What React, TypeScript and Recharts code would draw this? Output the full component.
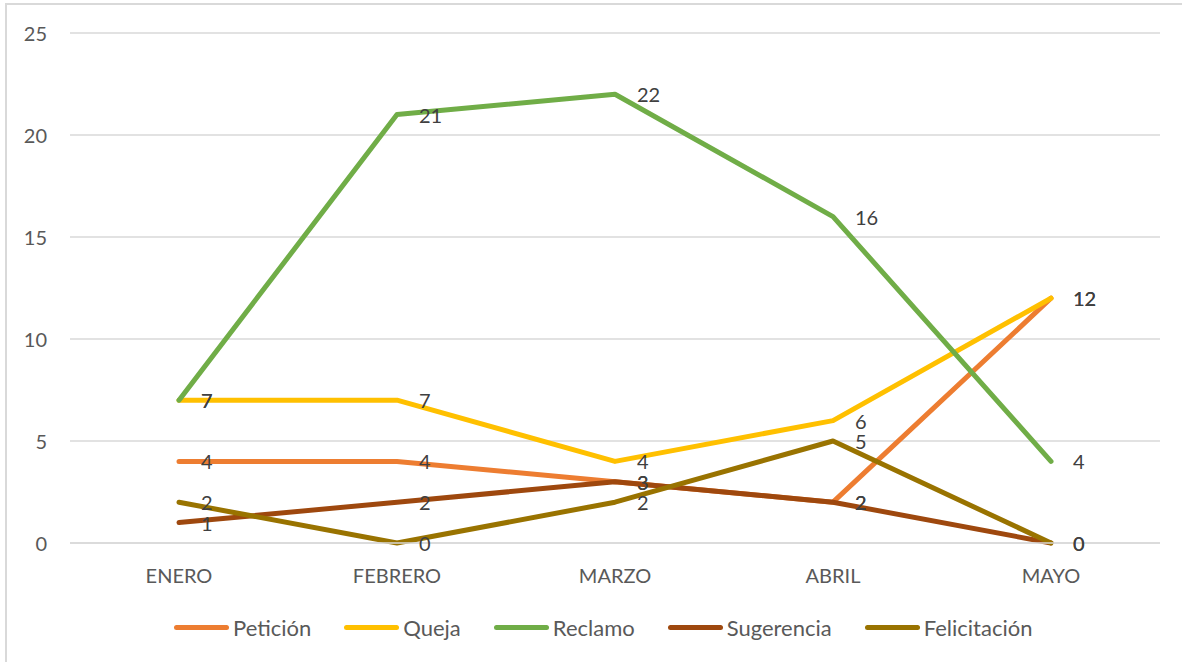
import React from "react";
import { LineChart, Line, XAxis, YAxis, CartesianGrid, LabelList } from "recharts";

const categories = ["ENERO", "FEBRERO", "MARZO", "ABRIL", "MAYO"];
const peticion = [4, 4, 3, 2, 12];
const queja = [7, 7, 4, 6, 12];
const reclamo = [7, 21, 22, 16, 4];
const sugerencia = [1, 2, 3, 2, 0];
const felicitacion = [2, 0, 2, 5, 0];
const yTicks = [0, 5, 10, 15, 20, 25];

const seriesNames = ["Petición", "Queja", "Reclamo", "Sugerencia", "Felicitación"];
const seriesKeys = ["peticion", "queja", "reclamo", "sugerencia", "felicitacion"];
const seriesColors = ["#ED7D31", "#FFC000", "#70AD47", "#9E480E", "#997300"];
const seriesValues = [peticion, queja, reclamo, sugerencia, felicitacion];

const data = categories.map((c, i) => {
  const row: any = { name: c };
  seriesKeys.forEach((k, j) => {
    row[k] = seriesValues[j][i];
  });
  return row;
});

const FONT = "Lato, 'Open Sans', sans-serif";

const YTick = (props: any) => (
  <text x={47} y={props.y} textAnchor="end" dominantBaseline="central" fontSize={20} fill="#595959" fontFamily={FONT}>
    {props.payload.value}
  </text>
);

const XTick = (props: any) => (
  <text x={props.x} y={575} textAnchor="middle" dominantBaseline="central" fontSize={20} fill="#595959" fontFamily={FONT}>
    {props.payload.value}
  </text>
);

const DataLabel = (props: any) => (
  <text x={props.x + 22} y={props.y} textAnchor="start" dominantBaseline="central" fontSize={20} fill="#404040" fontFamily={FONT}>
    {props.value}
  </text>
);

export default function App() {
  return (
    <div style={{ position: "absolute", left: 0, top: 0, width: 1182, height: 662, background: "#fff", overflow: "hidden" }}>
      <div style={{ position: "absolute", left: 5, top: 3, right: -10, bottom: -10, borderLeft: "2px solid #d9d9d9", borderTop: "2px solid #d9d9d9" }} />
      <LineChart width={1182} height={662} data={data} margin={{ top: 33, right: 22, left: 0, bottom: 89 }}>
        <CartesianGrid horizontal vertical={false} stroke="#d9d9d9" strokeWidth={1.5} />
        <XAxis dataKey="name" axisLine={{ stroke: "#d9d9d9", strokeWidth: 1.5 }} tickLine={false} tick={<XTick />} height={30} interval={0} padding={{ left: 109, right: 109 }} />
        <YAxis domain={[0, 25]} ticks={yTicks} axisLine={false} tickLine={false} tick={<YTick />} width={70} />
        {seriesKeys.map((k, j) => (
          <Line key={k} type="linear" dataKey={k} stroke={seriesColors[j]} strokeWidth={5} strokeLinecap="round" strokeLinejoin="round" dot={false} activeDot={false} isAnimationActive={false} />
        ))}
        {seriesKeys.map((k) => (
          <Line key={k + "-lbl"} type="linear" dataKey={k} stroke="none" dot={false} activeDot={false} isAnimationActive={false} legendType="none">
            <LabelList dataKey={k} content={<DataLabel />} />
          </Line>
        ))}
      </LineChart>
      <div style={{ position: "absolute", left: 174, top: 613, height: 28, display: "flex", alignItems: "center", fontFamily: FONT, fontSize: 22, color: "#595959" }}>
        {seriesNames.map((n, j) => (
          <div key={n} style={{ display: "flex", alignItems: "center", marginRight: 33 }}>
            <div style={{ width: 55, height: 5, borderRadius: 3, background: seriesColors[j], marginRight: 4 }} />
            <span>{n}</span>
          </div>
        ))}
      </div>
    </div>
  );
}
